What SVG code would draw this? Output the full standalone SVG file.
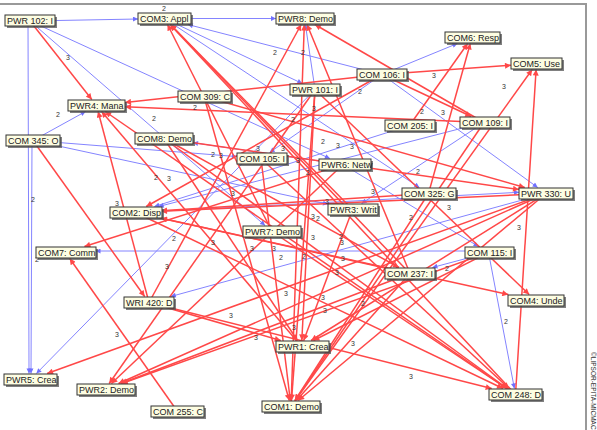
<svg xmlns="http://www.w3.org/2000/svg" width="597" height="430" viewBox="0 0 597 430">
<style>
.r{stroke:#ff4848;stroke-width:1.5;fill:none;marker-end:url(#ar)}
.b{stroke:#8484ff;stroke-width:1;fill:none;marker-end:url(#ab)}
.lb{font-family:"Liberation Sans",Arial,sans-serif;font-size:7px;fill:#333;text-anchor:middle}
.sh{fill:#555;opacity:.75}
.bx{fill:#fdfde2;stroke:#333;stroke-width:1}
.node text{font-family:"Liberation Sans",Arial,sans-serif;font-size:9px;fill:#222}
.frame{stroke:#999;stroke-width:2;fill:none}
</style>
<defs>
<marker id="ar" viewBox="0 0 10 10" refX="10" refY="5" markerUnits="userSpaceOnUse" markerWidth="8" markerHeight="6" orient="auto"><path d="M0,0L10,5L0,10z" fill="#ff4848"/></marker>
<marker id="ab" viewBox="0 0 10 10" refX="10" refY="5" markerUnits="userSpaceOnUse" markerWidth="7" markerHeight="5" orient="auto"><path d="M0,0L10,5L0,10z" fill="#7070ff"/></marker>
</defs>
<rect width="597" height="430" fill="#fff"/>
<path class="frame" d="M0,4H586V430"/>
<text x="591" y="352" transform="rotate(90 591 352)" font-family="Liberation Sans,Arial,sans-serif" font-size="6.5" fill="#333">©LIPSOR-EPITA-MICMAC</text>
<g id="connectors">
<line class="b" x1="30" y1="21" x2="138" y2="19"/>
<line class="b" x1="164.5" y1="18.5" x2="276" y2="18.5"/>
<line class="b" x1="28" y1="21" x2="29" y2="373.5"/>
<line class="b" x1="32" y1="140.5" x2="31" y2="373.5"/>
<line class="b" x1="33" y1="140.5" x2="85.6" y2="111.5"/>
<line class="b" x1="30" y1="21" x2="265.1" y2="225.5"/>
<line class="b" x1="30" y1="21" x2="329.9" y2="158.5"/>
<line class="b" x1="382" y1="74.5" x2="187.8" y2="24.5"/>
<line class="b" x1="164.5" y1="18.5" x2="419.4" y2="187.5"/>
<line class="b" x1="315" y1="89.5" x2="305.4" y2="24.5"/>
<line class="b" x1="382" y1="74.5" x2="457.4" y2="43.5"/>
<line class="b" x1="409.5" y1="125.5" x2="154.4" y2="206.5"/>
<line class="b" x1="382" y1="74.5" x2="269.6" y2="152.5"/>
<line class="b" x1="382" y1="74.5" x2="537.7" y2="187.5"/>
<line class="b" x1="343" y1="164.5" x2="193" y2="142.7"/>
<line class="b" x1="488.5" y1="251" x2="95.5" y2="251"/>
<line class="b" x1="488.5" y1="252.5" x2="432.4" y2="267.5"/>
<line class="b" x1="546" y1="193.5" x2="170.8" y2="296.5"/>
<line class="b" x1="484" y1="122.5" x2="158.7" y2="206.5"/>
<line class="b" x1="315" y1="89.5" x2="36.4" y2="373.5"/>
<line class="b" x1="488.5" y1="252.5" x2="514.4" y2="388.5"/>
<line class="b" x1="135.5" y1="212.5" x2="519" y2="192.3"/>
<line class="b" x1="33" y1="140.5" x2="328" y2="204.2"/>
<line class="b" x1="343" y1="164.5" x2="478.6" y2="246.5"/>
<line class="b" x1="484" y1="122.5" x2="361.6" y2="203.5"/>
<line class="b" x1="33" y1="140.5" x2="237" y2="156.6"/>
<line class="b" x1="164.5" y1="18.5" x2="302.3" y2="83.5"/>
<line class="r" x1="30" y1="21" x2="91.8" y2="99.5"/>
<line class="r" x1="484" y1="122.5" x2="125" y2="106.8"/>
<line class="r" x1="382" y1="74.5" x2="125" y2="102.4"/>
<line class="r" x1="149" y1="302.5" x2="98.1" y2="111.5"/>
<line class="r" x1="515.5" y1="394.5" x2="105.2" y2="111.5"/>
<line class="r" x1="352.5" y1="209.5" x2="170.4" y2="24.5"/>
<line class="r" x1="410" y1="273.5" x2="170.3" y2="24.5"/>
<line class="r" x1="515.5" y1="394.5" x2="170.1" y2="24.5"/>
<line class="r" x1="291" y1="406.5" x2="304.3" y2="24.5"/>
<line class="r" x1="315" y1="89.5" x2="109.2" y2="383.5"/>
<line class="r" x1="149" y1="302.5" x2="301.2" y2="24.5"/>
<line class="r" x1="484" y1="122.5" x2="314.9" y2="24.5"/>
<line class="r" x1="410" y1="273.5" x2="307" y2="24.5"/>
<line class="r" x1="428.5" y1="193.5" x2="470.3" y2="43.5"/>
<line class="r" x1="409.5" y1="125.5" x2="467.7" y2="43.5"/>
<line class="r" x1="382" y1="74.5" x2="511" y2="65.3"/>
<line class="r" x1="291" y1="406.5" x2="532.2" y2="69.5"/>
<line class="r" x1="515.5" y1="394.5" x2="536.1" y2="69.5"/>
<line class="r" x1="382" y1="74.5" x2="471.3" y2="116.5"/>
<line class="r" x1="33" y1="140.5" x2="144.7" y2="296.5"/>
<line class="r" x1="177.5" y1="411.5" x2="69.7" y2="258.5"/>
<line class="r" x1="546" y1="193.5" x2="47.1" y2="373.5"/>
<line class="r" x1="546" y1="193.5" x2="118.5" y2="383.5"/>
<line class="r" x1="546" y1="193.5" x2="161" y2="211.3"/>
<line class="r" x1="546" y1="193.5" x2="298.2" y2="400.5"/>
<line class="r" x1="488.5" y1="252.5" x2="121.8" y2="383.5"/>
<line class="r" x1="410" y1="273.5" x2="120.8" y2="383.5"/>
<line class="r" x1="410" y1="273.5" x2="161" y2="218.2"/>
<line class="r" x1="382" y1="74.5" x2="146.2" y2="206.5"/>
<line class="r" x1="343" y1="164.5" x2="84.4" y2="246.5"/>
<line class="r" x1="149" y1="302.5" x2="491.7" y2="388.5"/>
<line class="r" x1="272" y1="231.5" x2="506.5" y2="388.5"/>
<line class="r" x1="164" y1="138.5" x2="507.3" y2="388.5"/>
<line class="r" x1="135.5" y1="212.5" x2="503" y2="388.5"/>
<line class="r" x1="428.5" y1="193.5" x2="294.9" y2="400.5"/>
<line class="r" x1="261" y1="158.5" x2="290.3" y2="400.5"/>
<line class="r" x1="204" y1="96.5" x2="289.3" y2="400.5"/>
<line class="r" x1="315" y1="89.5" x2="291.5" y2="400.5"/>
<line class="r" x1="410" y1="273.5" x2="296.4" y2="400.5"/>
<line class="r" x1="546" y1="193.5" x2="311.1" y2="340.5"/>
<line class="r" x1="488.5" y1="252.5" x2="313.4" y2="340.5"/>
<line class="r" x1="315" y1="89.5" x2="301.8" y2="340.5"/>
<line class="r" x1="164" y1="138.5" x2="297.5" y2="340.5"/>
<line class="r" x1="272" y1="231.5" x2="167.5" y2="24.5"/>
<line class="r" x1="315" y1="89.5" x2="529.2" y2="294.5"/>
<line class="r" x1="164" y1="138.5" x2="399.1" y2="267.5"/>
<line class="r" x1="204" y1="96.5" x2="524.8" y2="187.5"/>
<line class="r" x1="352.5" y1="209.5" x2="303.7" y2="340.5"/>
<line class="r" x1="149" y1="302.5" x2="280.7" y2="340.5"/>
<line class="r" x1="135.5" y1="212.5" x2="508.3" y2="294.5"/>
<line class="r" x1="301.5" y1="346.5" x2="101.6" y2="111.5"/>
<line class="r" x1="164" y1="138.5" x2="519" y2="189.6"/>
<line class="r" x1="261" y1="158.5" x2="509" y2="388.5"/>
<line class="r" x1="343" y1="164.5" x2="111.4" y2="383.5"/>
<line class="r" x1="484" y1="122.5" x2="295.1" y2="400.5"/>
<line class="r" x1="428.5" y1="193.5" x2="161" y2="210.8"/>
</g>
<g id="edge-labels" class="lb">
<text x="164" y="11">2</text><text x="68" y="60">3</text><text x="58" y="117">2</text><text x="154" y="121">2</text>
<text x="195" y="110">2</text><text x="275" y="55">2</text><text x="303" y="55">2</text><text x="360" y="94">2</text>
<text x="293" y="122">2</text><text x="314" y="111">3</text><text x="323" y="144">2</text><text x="338" y="148">3</text>
<text x="352" y="149">3</text><text x="258" y="151">3</text><text x="213" y="157">2</text><text x="221" y="158">3</text>
<text x="283" y="151">3</text><text x="298" y="163">3</text><text x="308" y="175">2</text><text x="434" y="78">3</text>
<text x="504" y="89">3</text><text x="422" y="114">2</text><text x="443" y="115">3</text><text x="33" y="202">2</text>
<text x="156" y="180">2</text><text x="169" y="181">3</text><text x="117" y="206">3</text><text x="174" y="241">2</text>
<text x="167" y="269">3</text><text x="37" y="262">2</text><text x="233" y="196">3</text><text x="327" y="204">3</text>
<text x="313" y="219">3</text><text x="318" y="221">2</text><text x="313" y="240">3</text><text x="341" y="239">2</text>
<text x="342" y="245">3</text><text x="213" y="245">3</text><text x="252" y="251">3</text><text x="274" y="251">3</text>
<text x="281" y="260">2</text><text x="304" y="259">2</text><text x="343" y="261">3</text><text x="337" y="275">3</text>
<text x="373" y="194">3</text><text x="418" y="174">2</text><text x="449" y="210">3</text><text x="411" y="220">2</text>
<text x="519" y="230">3</text><text x="447" y="271">2</text><text x="117" y="337">3</text><text x="286" y="296">3</text>
<text x="323" y="300">3</text><text x="325" y="313">3</text><text x="363" y="306">2</text><text x="231" y="318">3</text>
<text x="294" y="330">3</text><text x="256" y="340">3</text><text x="353" y="346">3</text><text x="506" y="324">2</text>
<text x="411" y="379">3</text>
</g>
<g id="PWR102" class="node"><rect class="sh" x="7" y="17" width="50" height="11"/><rect class="bx" x="5" y="15" width="50" height="11"/><text x="7" y="24">PWR 102: I</text></g>
<g id="COM3" class="node"><rect class="sh" x="140" y="15" width="53" height="11"/><rect class="bx" x="138" y="13" width="53" height="11"/><text x="140" y="22">COM3: Appl</text></g>
<g id="PWR8" class="node"><rect class="sh" x="278" y="15" width="58" height="11"/><rect class="bx" x="276" y="13" width="58" height="11"/><text x="278" y="22">PWR8: Demo</text></g>
<g id="COM6" class="node"><rect class="sh" x="447" y="34" width="55" height="11"/><rect class="bx" x="445" y="32" width="55" height="11"/><text x="447" y="41">COM6: Resp</text></g>
<g id="COM5" class="node"><rect class="sh" x="513" y="60" width="51" height="11"/><rect class="bx" x="511" y="58" width="51" height="11"/><text x="513" y="67">COM5: Use</text></g>
<g id="COM106" class="node"><rect class="sh" x="359" y="71" width="50" height="11"/><rect class="bx" x="357" y="69" width="50" height="11"/><text x="359" y="78">COM 106: I</text></g>
<g id="PWR101" class="node"><rect class="sh" x="292" y="86" width="50" height="11"/><rect class="bx" x="290" y="84" width="50" height="11"/><text x="292" y="93">PWR 101: I</text></g>
<g id="COM309" class="node"><rect class="sh" x="180" y="93" width="53" height="11"/><rect class="bx" x="178" y="91" width="53" height="11"/><text x="180" y="100">COM 309: C</text></g>
<g id="COM205" class="node"><rect class="sh" x="387" y="122" width="50" height="11"/><rect class="bx" x="385" y="120" width="50" height="11"/><text x="387" y="129">COM 205: I</text></g>
<g id="COM109" class="node"><rect class="sh" x="462" y="119" width="50" height="11"/><rect class="bx" x="460" y="117" width="50" height="11"/><text x="462" y="126">COM 109: I</text></g>
<g id="PWR4" class="node"><rect class="sh" x="70" y="102" width="57" height="11"/><rect class="bx" x="68" y="100" width="57" height="11"/><text x="70" y="109">PWR4: Mana</text></g>
<g id="COM345" class="node"><rect class="sh" x="8" y="137" width="54" height="11"/><rect class="bx" x="6" y="135" width="54" height="11"/><text x="8" y="144">COM 345: O</text></g>
<g id="COM8" class="node"><rect class="sh" x="137" y="135" width="58" height="11"/><rect class="bx" x="135" y="133" width="58" height="11"/><text x="137" y="142">COM8: Demo</text></g>
<g id="COM105" class="node"><rect class="sh" x="239" y="155" width="50" height="11"/><rect class="bx" x="237" y="153" width="50" height="11"/><text x="239" y="162">COM 105: I</text></g>
<g id="PWR6" class="node"><rect class="sh" x="321" y="161" width="52" height="11"/><rect class="bx" x="319" y="159" width="52" height="11"/><text x="321" y="168">PWR6: Netw</text></g>
<g id="COM325" class="node"><rect class="sh" x="404" y="190" width="54" height="11"/><rect class="bx" x="402" y="188" width="54" height="11"/><text x="404" y="197">COM 325: G</text></g>
<g id="PWR330" class="node"><rect class="sh" x="521" y="190" width="54" height="11"/><rect class="bx" x="519" y="188" width="54" height="11"/><text x="521" y="197">PWR 330: U</text></g>
<g id="PWR3" class="node"><rect class="sh" x="330" y="206" width="50" height="11"/><rect class="bx" x="328" y="204" width="50" height="11"/><text x="330" y="213">PWR3: Writ</text></g>
<g id="COM2" class="node"><rect class="sh" x="112" y="209" width="52" height="11"/><rect class="bx" x="110" y="207" width="52" height="11"/><text x="112" y="216">COM2: Disp</text></g>
<g id="PWR7" class="node"><rect class="sh" x="245" y="228" width="58" height="11"/><rect class="bx" x="243" y="226" width="58" height="11"/><text x="245" y="235">PWR7: Demo</text></g>
<g id="COM7" class="node"><rect class="sh" x="38" y="249" width="60" height="11"/><rect class="bx" x="36" y="247" width="60" height="11"/><text x="38" y="256">COM7: Comm</text></g>
<g id="COM115" class="node"><rect class="sh" x="467" y="249" width="49" height="11"/><rect class="bx" x="465" y="247" width="49" height="11"/><text x="467" y="256">COM 115: I</text></g>
<g id="COM237" class="node"><rect class="sh" x="387" y="270" width="50" height="11"/><rect class="bx" x="385" y="268" width="50" height="11"/><text x="387" y="277">COM 237: I</text></g>
<g id="WRI420" class="node"><rect class="sh" x="126" y="299" width="50" height="11"/><rect class="bx" x="124" y="297" width="50" height="11"/><text x="126" y="306">WRI 420: D</text></g>
<g id="COM4" class="node"><rect class="sh" x="510" y="297" width="56" height="11"/><rect class="bx" x="508" y="295" width="56" height="11"/><text x="510" y="304">COM4: Unde</text></g>
<g id="PWR1" class="node"><rect class="sh" x="278" y="343" width="53" height="11"/><rect class="bx" x="276" y="341" width="53" height="11"/><text x="278" y="350">PWR1: Crea</text></g>
<g id="PWR5" class="node"><rect class="sh" x="6" y="376" width="53" height="11"/><rect class="bx" x="4" y="374" width="53" height="11"/><text x="6" y="383">PWR5: Crea</text></g>
<g id="PWR2" class="node"><rect class="sh" x="79" y="386" width="58" height="11"/><rect class="bx" x="77" y="384" width="58" height="11"/><text x="79" y="393">PWR2: Demo</text></g>
<g id="COM255" class="node"><rect class="sh" x="153" y="408" width="53" height="11"/><rect class="bx" x="151" y="406" width="53" height="11"/><text x="153" y="415">COM 255: C</text></g>
<g id="COM1" class="node"><rect class="sh" x="264" y="403" width="58" height="11"/><rect class="bx" x="262" y="401" width="58" height="11"/><text x="264" y="410">COM1: Demo</text></g>
<g id="COM248" class="node"><rect class="sh" x="491" y="391" width="53" height="11"/><rect class="bx" x="489" y="389" width="53" height="11"/><text x="491" y="398">COM 248: D</text></g>
</svg>
